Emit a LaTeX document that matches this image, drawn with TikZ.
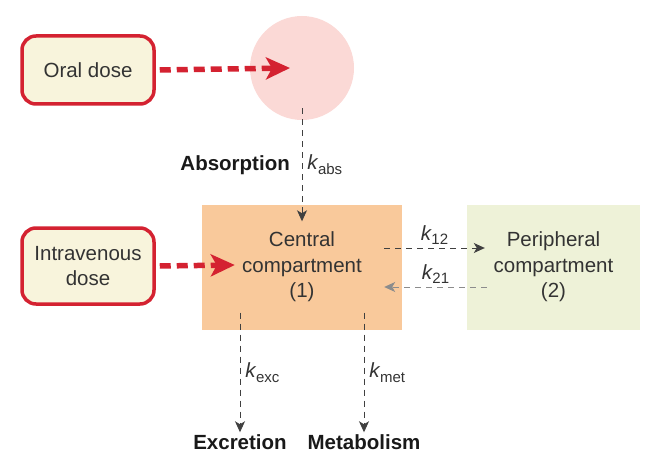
\documentclass[tikz,border=0pt]{standalone}
\usepackage{fontspec}
\setmainfont{Liberation Sans}
\usetikzlibrary{arrows.meta,positioning}
\definecolor{doseRed}{HTML}{D42231}
\definecolor{doseFill}{HTML}{F8F4DC}
\definecolor{gutFill}{HTML}{FBD9D6}
\definecolor{centralFill}{HTML}{F9C99B}
\definecolor{periphFill}{HTML}{EEF2D8}
\definecolor{txt}{HTML}{333333}
\tikzset{dose node/.style={rectangle,rounded corners=14pt,draw=doseRed,line width=3.5pt,fill=doseFill,
            minimum width=132pt,align=center,text=txt},
         compartment/.style={rectangle,minimum width=200pt,minimum height=125pt,align=center,text=txt},
         sink label/.style={font=\bfseries,text=black!90,inner sep=2pt},
         rate label/.style={text=txt,inner sep=1pt},
         dose arrow/.style={-{Stealth[length=24pt,width=22pt,inset=6pt]},doseRed,line width=5.5pt,dash pattern=on 11pt off 6pt},
         flow/.style={-{Stealth[length=11pt,width=10pt,inset=3pt]},black!75,line width=0.9pt,dash pattern=on 6pt off 5pt}
}
\newcommand{\rate}[1]{\textit{k}\kern-0.5pt\raisebox{-4.5pt}{\fontsize{15}{15}\selectfont #1}}

\begin{document}
\begin{tikzpicture}[x=1pt,y=-1pt]
\fontsize{20.5}{25.5}\selectfont
\useasboundingbox (0,0) rectangle (653,476);
% doses
\node [dose node,minimum height=68pt] (oral) at (88,70) {Oral dose};
\node [dose node,minimum height=76pt] (iv) at (88,266) {Intravenous\\dose};
% gut and compartments
\node [circle,fill=gutFill,minimum size=104pt] (gut) at (302,68) {};
\node [compartment,fill=centralFill] (central) at (302,267) {Central\\compartment\\(1)};
\node [compartment,fill=periphFill,minimum width=173pt] (periph) at (553.5,267) {Peripheral\\compartment\\(2)};
% sinks
\node [sink label] (exc) at (240,442) {Excretion};
\node [sink label] (met) at (364,442) {Metabolism};

\draw [dose arrow] ([xshift=4pt]oral.east) -- ([xshift=-12pt]gut.center);
\draw [dose arrow] ([xshift=4pt]iv.east) -- ([xshift=33pt,yshift=2pt]central.west);
\draw [flow] ([yshift=12pt]gut.south) -- node [rate label,right=4pt] (kabs) {\rate{abs}} ([yshift=-17pt]central.north);
\node [sink label,left=14pt of kabs] (absorb) {Absorption};
\draw [flow] ([xshift=-18pt,yshift=19pt]central.east) -- node [rate label,above=2pt] {\rate{12}} ([xshift=18pt,yshift=19pt]periph.west);
\draw [flow,black!45] ([xshift=20pt,yshift=-20pt]periph.west) -- node [rate label,above=2pt] {\rate{21}} ([xshift=-18pt,yshift=-20pt]central.east);
\draw [flow] ([xshift=-62pt,yshift=17pt]central.south) -- node [rate label,right=4pt] {\rate{exc}} (exc.north);
\draw [flow] ([xshift=62pt,yshift=17pt]central.south) -- node [rate label,right=4pt] {\rate{met}} (met.north);
\end{tikzpicture}
\end{document}
